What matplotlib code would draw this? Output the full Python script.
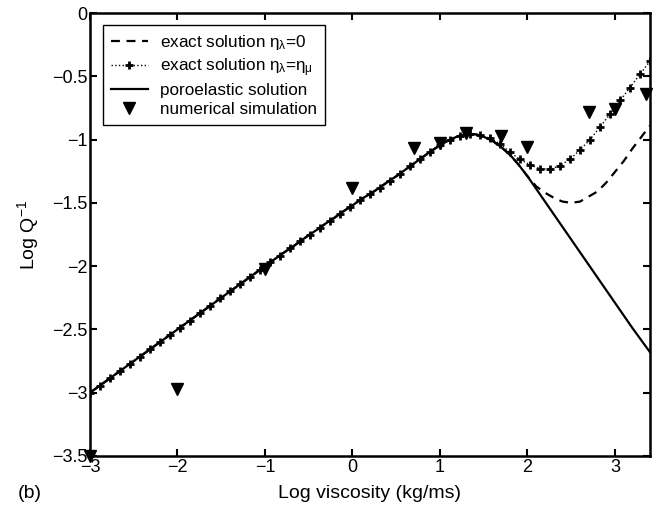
import matplotlib
matplotlib.use("Agg")
import matplotlib.pyplot as plt
from matplotlib.lines import Line2D

plt.rcParams['font.family'] = ['Liberation Sans', 'DejaVu Sans']
plt.rcParams['mathtext.fontset'] = 'custom'
plt.rcParams['mathtext.rm'] = 'Liberation Sans'
plt.rcParams['mathtext.it'] = 'Liberation Sans'

# Log viscosity grid for the continuous curves
visc = [-3.0, -2.9, -2.8, -2.7, -2.6, -2.5, -2.4, -2.3, -2.2, -2.1,
        -2.0, -1.9, -1.8, -1.7, -1.6, -1.5, -1.4, -1.3, -1.2, -1.1,
        -1.0, -0.9, -0.8, -0.7, -0.6, -0.5, -0.4, -0.3, -0.2, -0.1,
        0.0, 0.1, 0.2, 0.3, 0.4, 0.5, 0.6, 0.7, 0.8, 0.9,
        1.0, 1.1, 1.2, 1.3, 1.4, 1.5, 1.6, 1.7, 1.8, 1.9,
        2.0, 2.1, 2.2, 2.3, 2.4, 2.5, 2.6, 2.7, 2.8, 2.9,
        3.0, 3.1, 3.2, 3.3, 3.4]

# poroelastic solution
poro = [-3.00, -2.95, -2.90, -2.85, -2.80, -2.75, -2.70, -2.65, -2.60, -2.55,
        -2.50, -2.45, -2.40, -2.35, -2.30, -2.25, -2.20, -2.15, -2.10, -2.05,
        -2.00, -1.95, -1.90, -1.855, -1.805, -1.755, -1.71, -1.66, -1.615, -1.565,
        -1.52, -1.47, -1.43, -1.385, -1.335, -1.29, -1.24, -1.19, -1.14, -1.09,
        -1.045, -1.005, -0.975, -0.958, -0.957, -0.978, -1.01, -1.06, -1.12, -1.20,
        -1.29, -1.39, -1.49, -1.59, -1.69, -1.79, -1.89, -1.99, -2.09, -2.19,
        -2.29, -2.39, -2.49, -2.585, -2.68]

# exact solution eta_lambda = 0 (dashed), departs from poroelastic above ~2
exact0_tail = [-1.29, -1.37, -1.42, -1.46, -1.49, -1.50, -1.49, -1.45, -1.41, -1.34,
               -1.255, -1.17, -1.07, -0.98, -0.89]
exact0 = poro[:50] + exact0_tail

# exact solution eta_lambda = eta_mu (dotted with + markers)
visc_mu = [-3.00, -2.89, -2.77, -2.66, -2.54, -2.43, -2.31, -2.20, -2.09, -1.97,
           -1.86, -1.74, -1.63, -1.51, -1.40, -1.29, -1.17, -1.06, -0.94, -0.83,
           -0.71, -0.60, -0.49, -0.37, -0.26, -0.14, -0.03, 0.09, 0.20, 0.31,
           0.43, 0.54, 0.66, 0.77, 0.89, 1.00, 1.11, 1.23, 1.34, 1.46,
           1.57, 1.69, 1.80, 1.91, 2.03, 2.14, 2.26, 2.37, 2.49, 2.60,
           2.71, 2.83, 2.94, 3.06, 3.17, 3.29, 3.40]
exact_mu = [-3.00, -2.945, -2.885, -2.83, -2.77, -2.715, -2.655, -2.60, -2.545, -2.485,
            -2.43, -2.37, -2.315, -2.255, -2.20, -2.145, -2.085, -2.03, -1.97, -1.92,
            -1.86, -1.805, -1.75, -1.695, -1.64, -1.585, -1.535, -1.48, -1.43, -1.38,
            -1.325, -1.27, -1.21, -1.155, -1.10, -1.045, -1.00, -0.97, -0.955, -0.965,
            -0.99, -1.035, -1.10, -1.155, -1.20, -1.23, -1.235, -1.205, -1.155, -1.08,
            -1.005, -0.90, -0.80, -0.69, -0.59, -0.48, -0.38]

# numerical simulation
sim_visc = [-3.0, -2.0, -1.0, 0.0, 0.7, 1.0, 1.3, 1.7, 2.0, 2.7, 3.0, 3.35]
sim_q = [-3.5, -2.97, -2.02, -1.38, -1.07, -1.03, -0.95, -0.97, -1.06, -0.78, -0.76, -0.64]

xticks = [-3, -2, -1, 0, 1, 2, 3]
yticks = [0, -0.5, -1, -1.5, -2, -2.5, -3, -3.5]

fig = plt.figure(figsize=(6.59, 5.12), dpi=100)
ax = fig.add_axes([90 / 659, (512 - 456) / 512, (650 - 90) / 659, (456 - 13) / 512])

ax.plot(visc, exact0, color='black', linestyle=(0, (4, 3)), linewidth=1.6)
ax.plot(visc_mu, exact_mu, color='black', linestyle=':', linewidth=1.0,
        marker='+', markersize=6, markeredgewidth=2.0)
ax.plot(visc, poro, color='black', linestyle='-', linewidth=1.6)
ax.plot(sim_visc, sim_q, color='black', linestyle='none', marker='v', markersize=9,
        clip_on=False)

ax.set_xlim(-3, 3.4)
ax.set_ylim(-3.5, 0)
ax.set_xticks(xticks)
ax.set_yticks(yticks)
ax.set_xticklabels(['\u22123', '\u22122', '\u22121', '0', '1', '2', '3'])
ax.set_yticklabels(['0', '\u22120.5', '\u22121', '\u22121.5', '\u22122', '\u22122.5', '\u22123', '\u22123.5'])
ax.tick_params(direction='in', top=True, right=True, length=5, width=1.5,
               labelsize=13, pad=2)
for sp in ax.spines.values():
    sp.set_linewidth(1.8)

ax.set_xlabel('Log viscosity (kg/ms)', fontsize=14, labelpad=7)
ax.set_ylabel('Log Q$^{-1}$', fontsize=14, labelpad=8)

handles = [
    Line2D([], [], color='black', linestyle=(0, (4, 3)), linewidth=1.6),
    Line2D([], [], color='black', linestyle=':', linewidth=1.0, marker='+',
           markersize=6, markeredgewidth=2.0),
    Line2D([], [], color='black', linestyle='-', linewidth=1.6),
    Line2D([], [], color='black', linestyle='none', marker='v', markersize=9),
]
labels = [r'exact solution $\eta_\lambda$=0',
          r'exact solution $\eta_\lambda$=$\eta_\mu$',
          'poroelastic solution',
          'numerical simulation']
leg = ax.legend(handles, labels, loc='upper left', bbox_to_anchor=(0.023, 0.973),
                fontsize=12.3, frameon=True, fancybox=False, edgecolor='black',
                framealpha=1, handlelength=2.2, handletextpad=0.7,
                labelspacing=0.25, borderpad=0.45, borderaxespad=0)
leg.get_frame().set_linewidth(1.0)

fig.text(18 / 659, 1 - 493 / 512, '(b)', fontsize=14, va='center', ha='left')

fig.savefig('out.png', dpi=100)
